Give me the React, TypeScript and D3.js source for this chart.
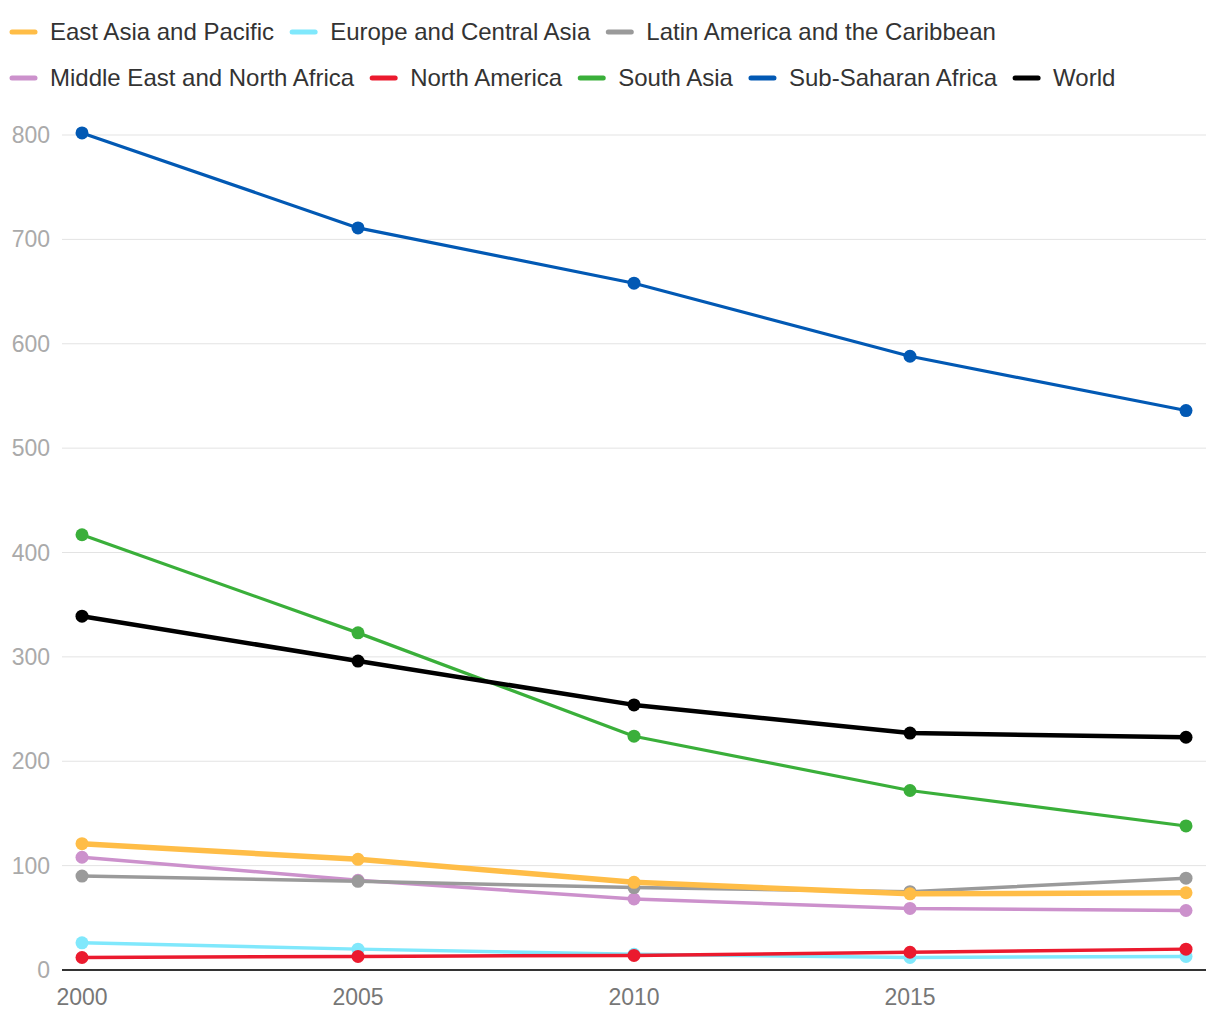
import { useRef, useEffect } from 'react';
import * as d3 from 'd3';

const years = [2000, 2005, 2010, 2015, 2020];
const xTicks = [2000, 2005, 2010, 2015];
const yTicks = [0, 100, 200, 300, 400, 500, 600, 700, 800];

const seriesNames = [
  'East Asia and Pacific',
  'Europe and Central Asia',
  'Latin America and the Caribbean',
  'Middle East and North Africa',
  'North America',
  'South Asia',
  'Sub-Saharan Africa',
  'World',
];

const eastAsia = [121, 106, 84, 73, 74];
const europe = [26, 20, 15, 12, 13];
const latinAmerica = [90, 85, 79, 75, 88];
const mena = [108, 86, 68, 59, 57];
const northAmerica = [12, 13, 14, 17, 20];
const southAsia = [417, 323, 224, 172, 138];
const subSaharan = [802, 711, 658, 588, 536];
const world = [339, 296, 254, 227, 223];

const seriesValues = [eastAsia, europe, latinAmerica, mena, northAmerica, southAsia, subSaharan, world];
const colors = ['#ffbd47', '#80e8fc', '#9a9a9a', '#cc91cc', '#eb1a2e', '#3aaf3a', '#0259b4', '#000000'];
const widths = [5.5, 3.5, 3.5, 3.5, 3.5, 3.2, 3.2, 4.5];
// drawing order: lower first, world on top
const drawOrder = [1, 4, 3, 2, 0, 5, 6, 7];

export default function App() {
  const svgRef = useRef<SVGSVGElement>(null);

  useEffect(() => {
    if (!svgRef.current) return;
    const svg = d3.select(svgRef.current);
    svg.selectAll('*').remove();

    const x = d3.scaleLinear().domain([2000, 2020]).range([82, 1186]);
    const y = d3.scaleLinear().domain([0, 800]).range([970, 135]);
    const gridLeft = 62;
    const gridRight = 1206;
    const font = '"Liberation Sans", Arial, sans-serif';

    // grid
    svg.append('g')
      .selectAll('line')
      .data(yTicks.filter((t) => t > 0))
      .join('line')
      .attr('x1', gridLeft)
      .attr('x2', gridRight)
      .attr('y1', (d) => y(d))
      .attr('y2', (d) => y(d))
      .attr('stroke', '#e3e3e3')
      .attr('stroke-width', 1);

    // y labels
    svg.append('g')
      .selectAll('text')
      .data(yTicks)
      .join('text')
      .attr('x', 50)
      .attr('y', (d) => y(d))
      .attr('dy', '0.35em')
      .attr('text-anchor', 'end')
      .attr('font-family', font)
      .attr('font-size', 23)
      .attr('fill', '#aaaaaa')
      .text((d) => d);

    // x axis line
    svg.append('line')
      .attr('x1', gridLeft)
      .attr('x2', gridRight)
      .attr('y1', y(0))
      .attr('y2', y(0))
      .attr('stroke', '#333')
      .attr('stroke-width', 2);

    svg.append('g')
      .selectAll('text')
      .data(xTicks)
      .join('text')
      .attr('x', (d) => x(d))
      .attr('y', 1005)
      .attr('text-anchor', 'middle')
      .attr('font-family', font)
      .attr('font-size', 23)
      .attr('fill', '#777')
      .text((d) => d);

    const line = d3.line<number>()
      .x((_, i) => x(years[i]))
      .y((d) => y(d));

    for (const si of drawOrder) {
      const g = svg.append('g');
      g.append('path')
        .datum(seriesValues[si])
        .attr('d', line)
        .attr('fill', 'none')
        .attr('stroke', colors[si])
        .attr('stroke-width', widths[si])
        .attr('stroke-linejoin', 'round')
        .attr('stroke-linecap', 'round');
      g.selectAll('circle')
        .data(seriesValues[si])
        .join('circle')
        .attr('cx', (_, i) => x(years[i]))
        .attr('cy', (d) => y(d))
        .attr('r', 6.5)
        .attr('fill', colors[si]);
    }

    // legend
    const rows = [[0, 1, 2], [3, 4, 5, 6, 7]];
    const rowY = [32, 78];
    rows.forEach((row, ri) => {
      let cx = 10;
      for (const si of row) {
        const lg = svg.append('g');
        lg.append('line')
          .attr('x1', cx + 2)
          .attr('x2', cx + 25)
          .attr('y1', rowY[ri])
          .attr('y2', rowY[ri])
          .attr('stroke', colors[si])
          .attr('stroke-width', 5)
          .attr('stroke-linecap', 'round');
        const t = lg.append('text')
          .attr('x', cx + 40)
          .attr('y', rowY[ri])
          .attr('dy', '0.35em')
          .attr('font-family', font)
          .attr('font-size', 24)
          .attr('fill', '#333')
          .text(seriesNames[si]);
        const w = (t.node() as SVGTextElement).getComputedTextLength();
        cx = cx + 40 + w + 16;
      }
    });
  }, []);

  return (
    <svg
      ref={svgRef}
      width={1220}
      height={1020}
      style={{ position: 'absolute', left: 0, top: 0, background: '#fff' }}
    />
  );
}
